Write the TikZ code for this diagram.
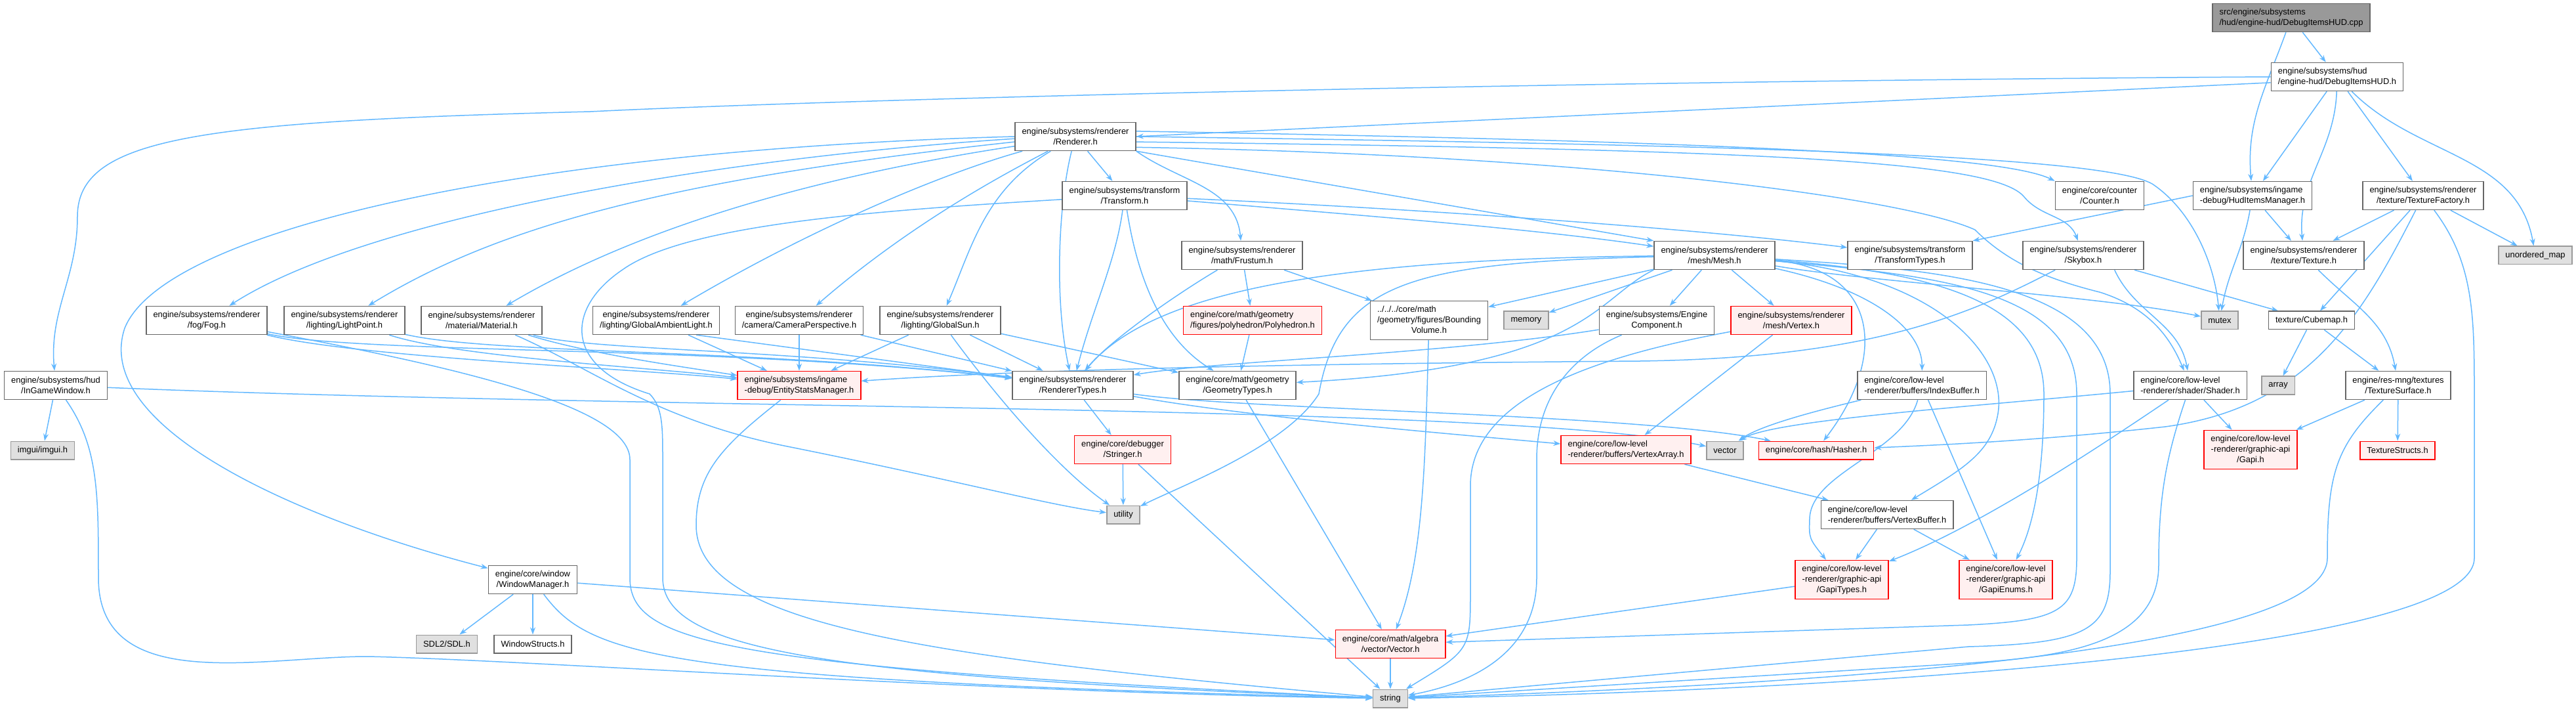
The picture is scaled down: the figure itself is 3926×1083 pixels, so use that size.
\documentclass[tikz,border=0pt]{standalone}
\usepackage{fontspec}
\setmainfont{Liberation Sans}
\usetikzlibrary{arrows.meta,backgrounds}
\definecolor{edgeblue}{HTML}{63B8FF}
\definecolor{boxline}{HTML}{666666}
\definecolor{sysline}{HTML}{999999}
\definecolor{sysfill}{HTML}{E0E0E0}
\definecolor{redline}{HTML}{FF0000}
\definecolor{redfill}{HTML}{FFF0F0}

\begin{document}
\begin{tikzpicture}[
  x=0.2mm, y=-0.2mm,
  every node/.style={rectangle, draw=boxline, fill=white, line width=0.3mm,
                     font=\fontsize{7.35}{9.1}\selectfont, align=center,
                     inner xsep=2.1mm, inner ysep=0.4mm, minimum height=8.6mm},
  oneline/.style={minimum height=5.5mm},
  threeline/.style={minimum height=11.8mm},
  rootfile/.style={fill=sysline},
  redfile/.style={draw=redline, fill=redfill},
  sysfile/.style={draw=sysline, fill=sysfill, minimum height=5.5mm},
  dep/.style={draw=edgeblue, line width=0.3mm,
              -{Stealth[length=2.2mm, width=1.6mm]}},
]
\useasboundingbox (0,0) rectangle (3926,1083);

\node[rootfile, align=left] (root) at (3492,27) {src/engine/subsystems\\/hud/engine-hud/DebugItemsHUD.cpp};
\node[align=left] (dhud) at (3562,117) {engine/subsystems/hud\\/engine-hud/DebugItemsHUD.h};
\node (renderer) at (1639,208) {engine/subsystems/renderer\\/Renderer.h};
\node (transform) at (1714,298) {engine/subsystems/transform\\/Transform.h};
\node (counter) at (3200,298) {engine/core/counter\\/Counter.h};
\node[align=left] (hudmgr) at (3433,298) {engine/subsystems/ingame\\-debug/HudItemsManager.h};
\node (texfac) at (3693,298) {engine/subsystems/renderer\\/texture/TextureFactory.h};
\node (frustum) at (1893,389) {engine/subsystems/renderer\\/math/Frustum.h};
\node (mesh) at (2613,389) {engine/subsystems/renderer\\/mesh/Mesh.h};
\node (ttypes) at (2911,389) {engine/subsystems/transform\\/TransformTypes.h};
\node (skybox) at (3175,389) {engine/subsystems/renderer\\/Skybox.h};
\node (texture) at (3511,389) {engine/subsystems/renderer\\/texture/Texture.h};
\node[sysfile] (umap) at (3864,389) {unordered\_map};
\node (fog) at (315,488) {engine/subsystems/renderer\\/fog/Fog.h};
\node (lightpt) at (525,488) {engine/subsystems/renderer\\/lighting/LightPoint.h};
\node (material) at (734,488) {engine/subsystems/renderer\\/material/Material.h};
\node (ambient) at (1000,488) {engine/subsystems/renderer\\/lighting/GlobalAmbientLight.h};
\node (camera) at (1218,488) {engine/subsystems/renderer\\/camera/CameraPerspective.h};
\node (sun) at (1433,488) {engine/subsystems/renderer\\/lighting/GlobalSun.h};
\node[redfile, align=left] (polyhedron) at (1909,488) {engine/core/math/geometry\\/figures/polyhedron/Polyhedron.h};
\node[threeline] (bvol) at (2178,488) {\begin{tabular}{@{}l@{}}../../../core/math\\/geometry/figures/Bounding\\\multicolumn{1}{@{}c@{}}{Volume.h}\end{tabular}};
\node[sysfile] (memory) at (2326,488) {memory};
\node (engcomp) at (2525,488) {engine/subsystems/Engine\\Component.h};
\node[redfile] (vertex) at (2730,488) {engine/subsystems/renderer\\/mesh/Vertex.h};
\node[sysfile] (mutex) at (3383,488) {mutex};
\node[oneline] (cubemap) at (3523,488) {texture/Cubemap.h};
\node (ingame) at (85,587) {engine/subsystems/hud\\/InGameWindow.h};
\node[redfile, align=left] (esm) at (1218,587) {engine/subsystems/ingame\\-debug/EntityStatsManager.h};
\node (rtypes) at (1635,587) {engine/subsystems/renderer\\/RendererTypes.h};
\node (geomtypes) at (1886,587) {engine/core/math/geometry\\/GeometryTypes.h};
\node[align=left] (ibuf) at (2929,587) {engine/core/low-level\\-renderer/buffers/IndexBuffer.h};
\node[align=left] (shader) at (3338,587) {engine/core/low-level\\-renderer/shader/Shader.h};
\node[sysfile] (array) at (3472,587) {array};
\node (texsurf) at (3655,587) {engine/res-mng/textures\\/TextureSurface.h};
\node[sysfile] (imgui) at (65,686) {imgui/imgui.h};
\node[redfile] (stringer) at (1711,685) {engine/core/debugger\\/Stringer.h};
\node[redfile, align=left] (varray) at (2478,685) {engine/core/low-level\\-renderer/buffers/VertexArray.h};
\node[sysfile] (vector) at (2629,686) {vector};
\node[redfile, oneline] (hasher) at (2768,686) {engine/core/hash/Hasher.h};
\node[redfile, threeline] (gapi) at (3430,685) {engine/core/low-level\\-renderer/graphic-api\\/Gapi.h};
\node[redfile, oneline] (texstructs) at (3654,686) {TextureStructs.h};
\node[sysfile] (utility) at (1712,784) {utility};
\node[align=left] (vbuf) at (2876,784) {engine/core/low-level\\-renderer/buffers/VertexBuffer.h};
\node (winmgr) at (812,883) {engine/core/window\\/WindowManager.h};
\node[redfile, threeline] (gapitypes) at (2807,883) {engine/core/low-level\\-renderer/graphic-api\\/GapiTypes.h};
\node[redfile, threeline] (gapienums) at (3057,883) {engine/core/low-level\\-renderer/graphic-api\\/GapiEnums.h};
\node[sysfile] (sdl) at (681,981) {SDL2/SDL.h};
\node[oneline] (winstructs) at (812,981) {WindowStructs.h};
\node[redfile] (vecmath) at (2119,981) {engine/core/math/algebra\\/vector/Vector.h};
\node[sysfile] (str) at (2119,1064) {string};

\begin{scope}[on background layer]
\draw[dep] (root) -- (dhud);
\draw[dep] (root) to[out=-110,in=95] (hudmgr);
\draw[dep] (dhud.185) -- (renderer.east);
\draw[dep] (dhud.west) .. controls (2200,125) and (1200,155) .. (900,170)
  .. controls (300,185) and (118,210) .. (118,330) to[out=-90,in=95] (ingame);
\draw[dep] (dhud) -- (hudmgr);
\draw[dep] (dhud) to[out=-92,in=95] (texture);
\draw[dep] (dhud) -- (texfac);
\draw[dep] (dhud) to[out=-45,in=100] (umap);

\draw[dep] (hudmgr.west) -- (ttypes.north east);
\draw[dep] (hudmgr) -- (texture);
\draw[dep] (hudmgr) to[out=-100,in=80] (mutex);
\draw[dep] (texfac) -- (texture);
\draw[dep] (texfac) -- (umap);
\draw[dep] (texfac) -- (cubemap);
\draw[dep] (texfac) .. controls (3600,480) and (3520,620) .. (3300,650)
  .. controls (3100,672) and (2950,678) .. (hasher);
\draw[dep] (texfac) .. controls (3770,400) and (3771,480) .. (3771,600) -- (3771,850)
  .. controls (3771,1000) and (2700,1055) .. (str);
\draw[dep] (texture) to[out=-45,in=100] (texsurf);
\draw[dep] (cubemap) -- (array);
\draw[dep] (cubemap) -- (texsurf);
\draw[dep] (texsurf) -- (gapi);
\draw[dep] (texsurf) -- (texstructs);
\draw[dep] (texsurf) .. controls (3560,680) and (3547,720) .. (3547,850)
  .. controls (3547,1000) and (2700,1045) .. (str);

\draw[dep] (skybox) -- (cubemap);
\draw[dep] (skybox.-25) to[out=-65,in=100] (shader);
\draw[dep] (skybox) .. controls (3000,480) and (2850,545) .. (2500,550)
  .. controls (2100,553) and (1600,560) .. (esm);

\draw[dep] (renderer) -- (transform);
\draw[dep] (renderer.south east) to[out=-35,in=95] (frustum);
\draw[dep] (renderer.south east) -- (mesh.north west);
\draw[dep] (renderer.5) .. controls (2600,215) and (3050,235) .. (counter.north west);
\draw[dep] (renderer.0) .. controls (2600,220) and (3200,235) .. (3280,280)
  .. controls (3340,320) and (3375,400) .. (mutex);
\draw[dep] (renderer.-5) .. controls (2700,228) and (3040,245) .. (3085,300)
  to[out=-50,in=110] (skybox);
\draw[dep] (renderer.-10) .. controls (2400,235) and (2900,300) .. (3010,350)
  .. controls (3060,400) and (3120,425) .. (3200,445)
  .. controls (3280,470) and (3310,520) .. (shader);
\draw[dep] (renderer.180) .. controls (800,228) and (250,350) .. (190,500)
  .. controls (140,650) and (450,790) .. (winmgr);
\draw[dep] (renderer.182) .. controls (1100,240) and (560,330) .. (fog);
\draw[dep] (renderer.185) .. controls (1000,275) and (750,350) .. (lightpt);
\draw[dep] (renderer.189) .. controls (1300,260) and (1000,330) .. (material);
\draw[dep] (renderer) .. controls (1450,260) and (1250,340) .. (ambient);
\draw[dep] (renderer) .. controls (1560,250) and (1400,330) .. (camera);
\draw[dep] (renderer) .. controls (1500,290) and (1480,380) .. (sun);
\draw[dep] (renderer) .. controls (1615,300) and (1605,450) .. (rtypes);

\draw[dep] (transform) .. controls (1700,400) and (1665,470) .. (rtypes);
\draw[dep] (transform) .. controls (1730,400) and (1760,510) .. (geomtypes);
\draw[dep] (transform) .. controls (2200,320) and (2600,350) .. (ttypes);
\draw[dep] (transform) .. controls (2100,330) and (2350,350) .. (mesh);
\draw[dep] (transform) .. controls (1350,320) and (1050,340) .. (950,410)
  .. controls (860,470) and (860,560) .. (990,600)
  .. controls (1010,620) and (1010,650) .. (1010,700) -- (1010,880)
  .. controls (1010,990) and (1250,1030) .. (str);

\draw[dep] (fog) .. controls (550,545) and (950,560) .. (esm);
\draw[dep] (fog) .. controls (550,540) and (1100,525) .. (rtypes);
\draw[dep] (fog) .. controls (700,560) and (960,620) .. (960,700) -- (960,880)
  .. controls (960,980) and (1100,1015) .. (str);
\draw[dep] (lightpt) .. controls (700,545) and (1000,560) .. (esm);
\draw[dep] (lightpt) .. controls (750,540) and (1150,530) .. (rtypes);
\draw[dep] (material) .. controls (900,540) and (1050,560) .. (esm);
\draw[dep] (material) .. controls (900,535) and (1200,530) .. (rtypes);
\draw[dep] (material) .. controls (900,560) and (1000,640) .. (1200,680)
  .. controls (1450,730) and (1600,770) .. (utility);
\draw[dep] (ambient) -- (esm);
\draw[dep] (ambient.-20) -- (rtypes);
\draw[dep] (camera) -- (esm);
\draw[dep] (camera) -- (rtypes);
\draw[dep] (sun) -- (esm);
\draw[dep] (sun) -- (rtypes);
\draw[dep] (sun) -- (geomtypes);
\draw[dep] (sun) .. controls (1530,620) and (1620,720) .. (utility);

\draw[dep] (frustum) -- (polyhedron);
\draw[dep] (frustum) .. controls (1790,450) and (1690,520) .. (rtypes);
\draw[dep] (frustum) -- (bvol);
\draw[dep] (polyhedron) -- (geomtypes);
\draw[dep] (bvol) .. controls (2172,700) and (2170,850) .. (vecmath);
\draw[dep] (geomtypes) -- (vecmath);

\draw[dep] (mesh) -- (bvol);
\draw[dep] (mesh) -- (memory);
\draw[dep] (mesh) -- (engcomp);
\draw[dep] (mesh) -- (vertex);
\draw[dep] (mesh) .. controls (2000,395) and (1750,450) .. (rtypes);
\draw[dep] (mesh.south west) .. controls (2430,455) and (2420,560) .. (geomtypes);
\draw[dep] (mesh) .. controls (2150,400) and (2040,430) .. (2010,600)
  .. controls (1960,680) and (1800,740) .. (utility);
\draw[dep] (mesh) .. controls (2850,440) and (2930,500) .. (ibuf);
\draw[dep] (mesh) .. controls (2860,410) and (2880,540) .. (hasher);
\draw[dep] (mesh) .. controls (2850,430) and (3200,450) .. (mutex);
\draw[dep] (mesh) .. controls (2950,420) and (3060,540) .. (3045,630)
  .. controls (3035,690) and (2990,715) .. (vbuf);
\draw[dep] (mesh) .. controls (2950,415) and (3115,460) .. (3115,600)
  .. controls (3115,720) and (3100,800) .. (gapienums);
\draw[dep] (mesh) .. controls (2950,420) and (3165,440) .. (3165,600) -- (3165,850)
  .. controls (3165,930) and (3140,945) .. (3000,952) -- (vecmath);
\draw[dep] (mesh) .. controls (2950,410) and (3216,430) .. (3216,600) -- (3216,870)
  .. controls (3216,960) and (3180,980) .. (3000,985) -- (str);
\draw[dep] (engcomp) .. controls (2200,540) and (1850,550) .. (rtypes);
\draw[dep] (engcomp) .. controls (2400,540) and (2342,600) .. (2342,700) -- (2342,880)
  .. controls (2342,990) and (2250,1040) .. (str);
\draw[dep] (vertex) -- (varray);
\draw[dep] (vertex) .. controls (2450,540) and (2241,600) .. (2241,740) -- (2241,900)
  .. controls (2241,990) .. (str);

\draw[dep] (varray) -- (vbuf);
\draw[dep] (vbuf) -- (gapitypes);
\draw[dep] (vbuf) -- (gapienums);
\draw[dep] (ibuf) .. controls (2750,630) and (2680,650) .. (vector);
\draw[dep] (ibuf) .. controls (2900,690) and (2760,720) .. (2758,790)
  .. controls (2757,820) .. (gapitypes);
\draw[dep] (ibuf) -- (gapienums);
\draw[dep] (shader) .. controls (3000,620) and (2700,640) .. (vector);
\draw[dep] (shader) .. controls (3200,680) and (3020,800) .. (gapitypes);
\draw[dep] (shader) -- (gapi);
\draw[dep] (shader) .. controls (3300,700) and (3290,760) .. (3290,860)
  .. controls (3290,980) and (3150,1000) .. (3000,1010) -- (str);

\draw[dep] (rtypes) -- (stringer);
\draw[dep] (rtypes) .. controls (1900,625) and (2500,630) .. (hasher);
\draw[dep] (rtypes) .. controls (1900,635) and (2200,660) .. (varray);
\draw[dep] (stringer) -- (utility);
\draw[dep] (stringer) -- (str);
\draw[dep] (gapitypes) -- (vecmath);
\draw[dep] (vecmath) -- (str);

\draw[dep] (ingame) -- (imgui);
\draw[dep] (ingame) .. controls (1000,625) and (2300,615) .. (vector);
\draw[dep] (ingame) .. controls (150,680) and (150,750) .. (150,880)
  .. controls (150,1060) and (400,1000) .. (560,1000)
  .. controls (800,1005) and (1500,1055) .. (str);
\draw[dep] (winmgr) -- (sdl);
\draw[dep] (winmgr) -- (winstructs);
\draw[dep] (winmgr) -- (vecmath);
\draw[dep] (winmgr) .. controls (900,1000) and (1000,1035) .. (str);
\draw[dep] (esm) .. controls (1100,680) and (1061,720) .. (1061,800)
  .. controls (1061,950) and (1400,1000) .. (str);
\end{scope}
\end{tikzpicture}
\end{document}
